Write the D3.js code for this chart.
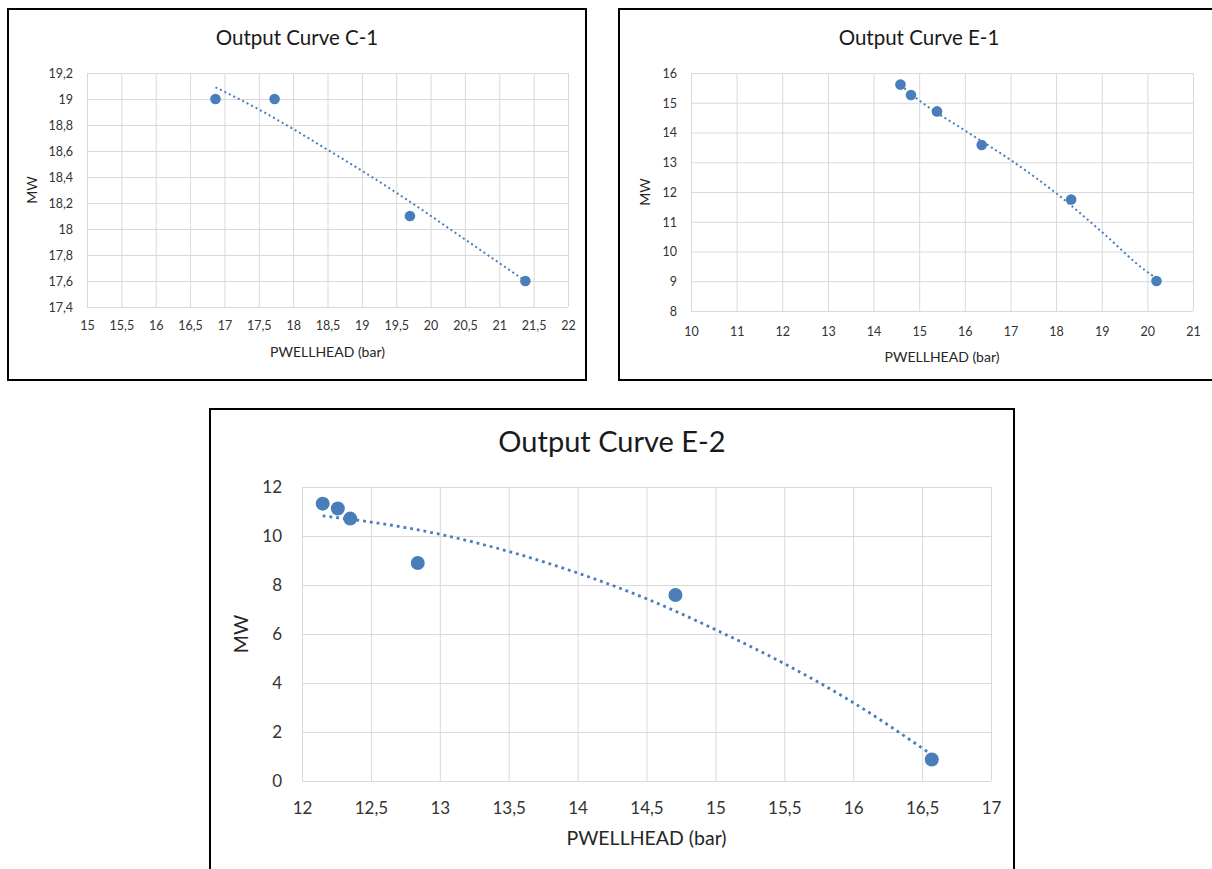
<!DOCTYPE html>
<html lang="en">

<head>
    <meta charset="utf-8">
    <script src="https://d3js.org/d3.v7.min.js"></script>
    <style>
        body { margin: 0; background: #fff; }
    </style>
</head>

<body>
    <div class="charts"></div>

    <script>
        // Output Curve C-1
        const c1X = [16.87, 17.73, 19.70, 21.38];
        const c1Y = [19.0, 19.0, 18.1, 17.6];
        const c1TrendX = [16.87, 17.5, 18.5, 19.5, 20.5, 21.38];
        const c1TrendY = [19.09, 18.92, 18.61, 18.28, 17.92, 17.6];
        const c1XTicks = [15, 15.5, 16, 16.5, 17, 17.5, 18, 18.5, 19, 19.5, 20, 20.5, 21, 21.5, 22];
        const c1YTicks = [17.4, 17.6, 17.8, 18, 18.2, 18.4, 18.6, 18.8, 19, 19.2];

        // Output Curve E-1
        const e1X = [14.59, 14.82, 15.39, 16.37, 18.33, 20.20];
        const e1Y = [15.61, 15.26, 14.71, 13.58, 11.75, 9.01];
        const e1TrendX = [14.59, 15, 16, 17, 18, 19, 20, 20.2];
        const e1TrendY = [15.6, 15.08, 14.07, 13.08, 11.96, 10.66, 9.31, 9.1];
        const e1XTicks = [10, 11, 12, 13, 14, 15, 16, 17, 18, 19, 20, 21];
        const e1YTicks = [8, 9, 10, 11, 12, 13, 14, 15, 16];

        // Output Curve E-2
        const e2X = [12.15, 12.26, 12.35, 12.84, 14.71, 16.57];
        const e2Y = [11.32, 11.12, 10.71, 8.90, 7.59, 0.88];
        const e2TrendX = [12.15, 12.5, 13, 13.5, 14, 14.5, 15, 15.5, 16, 16.55];
        const e2TrendY = [10.82, 10.57, 10.07, 9.37, 8.49, 7.44, 6.18, 4.79, 3.20, 1.15];
        const e2XTicks = [12, 12.5, 13, 13.5, 14, 14.5, 15, 15.5, 16, 16.5, 17];
        const e2YTicks = [0, 2, 4, 6, 8, 10, 12];

        const blue = "#4a7ebb";
        const grid = "#d9d9d9";
        const font = "Lato, 'Open Sans', sans-serif";
        const fmt = d => String(d).replace(".", ",");

        const svg = d3.select(".charts").append("svg")
            .attr("width", 1212)
            .attr("height", 869);

        // draws one framed chart; c holds layout, the arrays come from above
        function drawChart(c) {
            const g = svg.append("g");

            // outer frame
            g.append("rect")
                .attr("x", c.frame[0]).attr("y", c.frame[1])
                .attr("width", c.frame[2]).attr("height", c.frame[3])
                .attr("fill", "#fff").attr("stroke", "#000").attr("stroke-width", 2);

            const x = d3.scaleLinear().domain(d3.extent(c.xTicks)).range([c.left, c.right]);
            const y = d3.scaleLinear().domain(d3.extent(c.yTicks)).range([c.bottom, c.top]);

            // vertical grid + x labels
            const xa = g.append("g")
                .attr("transform", `translate(0,${c.bottom})`)
                .call(d3.axisBottom(x).tickValues(c.xTicks).tickFormat(fmt).tickSize(-(c.bottom - c.top)));
            xa.select(".domain").remove();
            xa.selectAll("line").attr("stroke", grid);
            xa.selectAll("text")
                .attr("y", c.xLabelOff).attr("dy", "0.35em")
                .attr("fill", "#333").style("font", `${c.tickSize}px ${font}`);

            // horizontal grid + y labels
            const ya = g.append("g")
                .attr("transform", `translate(${c.left},0)`)
                .call(d3.axisLeft(y).tickValues(c.yTicks).tickFormat(fmt).tickSize(-(c.right - c.left)));
            ya.select(".domain").remove();
            ya.selectAll("line").attr("stroke", grid);
            ya.selectAll("text")
                .attr("x", -c.yLabelOff).attr("dy", "0.35em")
                .attr("fill", "#333").style("font", `${c.tickSize}px ${font}`);

            // title
            g.append("text")
                .attr("x", c.frame[0] + c.frame[2] / 2).attr("y", c.titleY)
                .attr("text-anchor", "middle").attr("dy", "0.35em")
                .attr("fill", "#1a1a1a").style("font", `${c.titleSize}px ${font}`)
                .text(c.title);

            // axis titles
            g.append("text")
                .attr("x", (c.left + c.right) / 2).attr("y", c.xTitleY)
                .attr("text-anchor", "middle").attr("dy", "0.35em")
                .attr("fill", "#262626").style("font", `${c.axisSize}px ${font}`)
                .text("PWELLHEAD (bar)");
            g.append("text")
                .attr("transform", `translate(${c.yTitleX},${(c.top + c.bottom) / 2}) rotate(-90)`)
                .attr("text-anchor", "middle").attr("dy", "0.35em")
                .attr("fill", "#262626").style("font", `${c.axisSize}px ${font}`)
                .text("MW");

            // dotted trendline
            const trend = c.trendX.map((d, i) => ({ x: d, y: c.trendY[i] }));
            g.append("path")
                .datum(trend)
                .attr("fill", "none").attr("stroke", blue)
                .attr("stroke-width", c.dotW).attr("stroke-dasharray", c.dash)
                .attr("d", d3.line().curve(d3.curveMonotoneX)
                    .x(d => x(d.x))
                    .y(d => y(d.y)));

            // markers
            const pts = c.xs.map((d, i) => ({ x: d, y: c.ys[i] }));
            g.selectAll(".pt").data(pts).enter().append("circle")
                .attr("cx", d => x(d.x)).attr("cy", d => y(d.y))
                .attr("r", c.r).attr("fill", blue);
        }

        drawChart({
            title: "Output Curve C-1", xs: c1X, ys: c1Y, trendX: c1TrendX, trendY: c1TrendY,
            xTicks: c1XTicks, yTicks: c1YTicks,
            frame: [8, 9, 578, 371], left: 87, right: 568, top: 73, bottom: 307,
            titleY: 38, xTitleY: 352, yTitleX: 32, xLabelOff: 19, yLabelOff: 14,
            titleSize: 20.5, tickSize: 12.5, axisSize: 14, r: 5.3, dotW: 2, dash: "2,3"
        });

        drawChart({
            title: "Output Curve E-1", xs: e1X, ys: e1Y, trendX: e1TrendX, trendY: e1TrendY,
            xTicks: e1XTicks, yTicks: e1YTicks,
            frame: [619, 9, 600, 371], left: 691, right: 1193, top: 73, bottom: 311,
            titleY: 38, xTitleY: 357, yTitleX: 645, xLabelOff: 21, yLabelOff: 14,
            titleSize: 20.5, tickSize: 12.5, axisSize: 14, r: 5.3, dotW: 2, dash: "2,3"
        });

        drawChart({
            title: "Output Curve E-2", xs: e2X, ys: e2Y, trendX: e2TrendX, trendY: e2TrendY,
            xTicks: e2XTicks, yTicks: e2YTicks,
            frame: [210, 409, 804, 470], left: 302, right: 991, top: 487, bottom: 781,
            titleY: 442, xTitleY: 838, yTitleX: 241, xLabelOff: 27, yLabelOff: 20,
            titleSize: 29, tickSize: 17, axisSize: 19.5, r: 7, dotW: 2.8, dash: "2.8,4"
        });
    </script>
</body>

</html>
